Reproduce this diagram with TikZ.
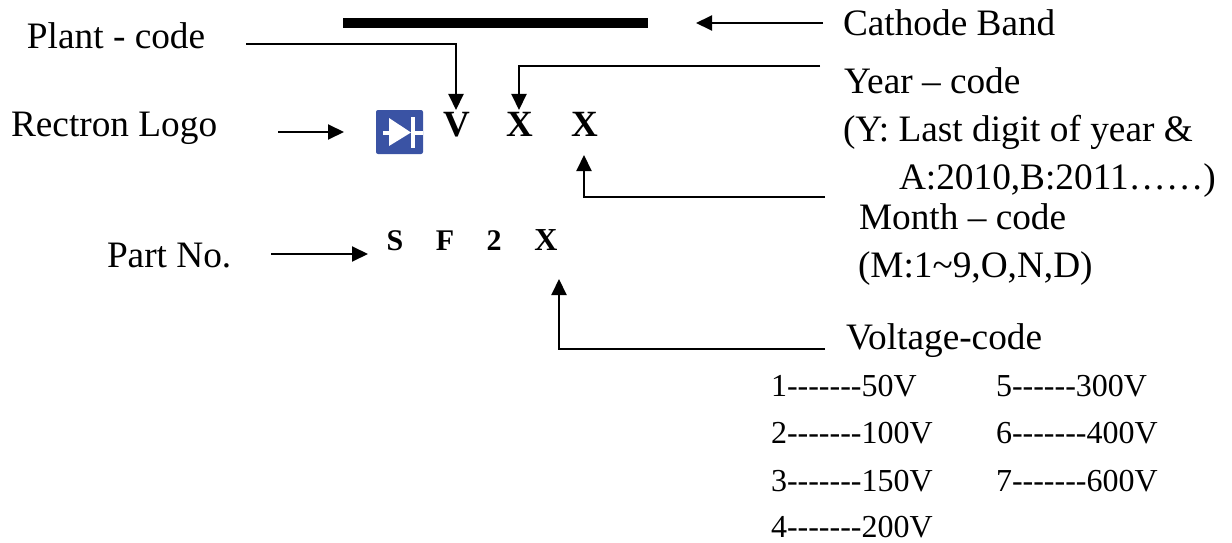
\documentclass[tikz,border=0pt]{standalone}
\usepackage{fontspec}
\setmainfont[Ligatures=NoCommon]{Liberation Serif}
\usetikzlibrary{arrows.meta}
\definecolor{logoblue}{HTML}{3A53A4}
\tikzset{x=1pt,y=-1pt,
 lab/.style={anchor=base west,inner sep=0pt,outer sep=0pt,font=\fontsize{37.3}{37.3}\selectfont},
 vlt/.style={anchor=base west,inner sep=0pt,outer sep=0pt,font=\fontsize{32}{32}\selectfont},
 mark1/.style={anchor=base,inner sep=0pt,outer sep=0pt,font=\bfseries\fontsize{37}{37}\selectfont},
 mark2/.style={anchor=base,inner sep=0pt,outer sep=0pt,font=\bfseries\fontsize{30}{30}\selectfont},
 conn/.style={draw=black,line width=2pt,-{Triangle[length=16pt,width=15pt]}},
}
\begin{document}
\begin{tikzpicture}
\useasboundingbox (0,0) rectangle (1232,543);
% cathode band
\fill[black] (343,18) rectangle (648,28);
% labels
\node[lab] (cath) at (843,36) {Cathode Band};
\node[lab] (plant) at (27,49) {Plant - code};
\node[lab] (logo) at (11,136) {Rectron Logo};
\node[lab] (year) at (844,93) {Year – code};
\node[lab] (year2) at (843,141) {(Y: Last digit of year \&};
\node[lab] (year3) at (899,189) {A:2010,B:2011……)};
\node[lab] (month) at (859,229) {Month – code};
\node[lab] (month2) at (858,277) {(M:1\char"007E 9,O,N,D)};
\node[lab] (part) at (107,267) {Part No.};
\node[lab] (volt) at (846,349) {Voltage-code};
% marks
\node[mark1] (mv) at (457,136) {V};
\node[mark1] (mx1) at (520,136) {X};
\node[mark1] (mx2) at (585,136) {X};
\node[mark2] (ps) at (395,250) {S};
\node[mark2] (pf) at (445,250) {F};
\node[mark2] (p2) at (494,250) {2};
\node[mark2,font=\bfseries\fontsize{32}{32}\selectfont] (px) at (546,250) {X};
% voltages
\node[vlt] (v1) at (771,396) {1-{}-{}-{}-{}-{}-{}-50V};
\node[vlt] (v2) at (771,443) {2-{}-{}-{}-{}-{}-{}-100V};
\node[vlt] (v3) at (771,491) {3-{}-{}-{}-{}-{}-{}-150V};
\node[vlt] (v4) at (771,537) {4-{}-{}-{}-{}-{}-{}-200V};
\node[vlt] (v5) at (996,396) {5-{}-{}-{}-{}-{}-300V};
\node[vlt] (v6) at (996,443) {6-{}-{}-{}-{}-{}-{}-400V};
\node[vlt] (v7) at (996,491) {7-{}-{}-{}-{}-{}-{}-600V};
% logo
\fill[logoblue,rounded corners=2pt] (376,110) rectangle (423,154);
\fill[white] (389,118) -- (389,146) -- (411,132.5) -- cycle;
\fill[white] (383,130.5) rectangle (389,134.5);
\fill[white] (410.5,117) rectangle (415,148);
\fill[white] (415,130.5) rectangle (423,134.5);
% connector end points
\coordinate (c1) at (823,23);
\coordinate (c1e) at (696,23);
\coordinate (c2) at (246,44);
\coordinate (c2e) at (456,110);
\coordinate (c3) at (820,66);
\coordinate (c3e) at (519,110);
\coordinate (c4) at (825,197);
\coordinate (c4e) at (584,155);
\coordinate (c5) at (278,132);
\coordinate (c5e) at (344,132);
\coordinate (c6) at (271,254);
\coordinate (c6e) at (368,254);
\coordinate (c7) at (825,349);
\coordinate (c7e) at (559,279);
\draw[conn] (c1) -- (c1e);
\draw[conn] (c2) -| (c2e);
\draw[conn] (c3) -| (c3e);
\draw[conn] (c4) -| (c4e);
\draw[conn] (c5) -- (c5e);
\draw[conn] (c6) -- (c6e);
\draw[conn] (c7) -| (c7e);
\end{tikzpicture}
\end{document}
